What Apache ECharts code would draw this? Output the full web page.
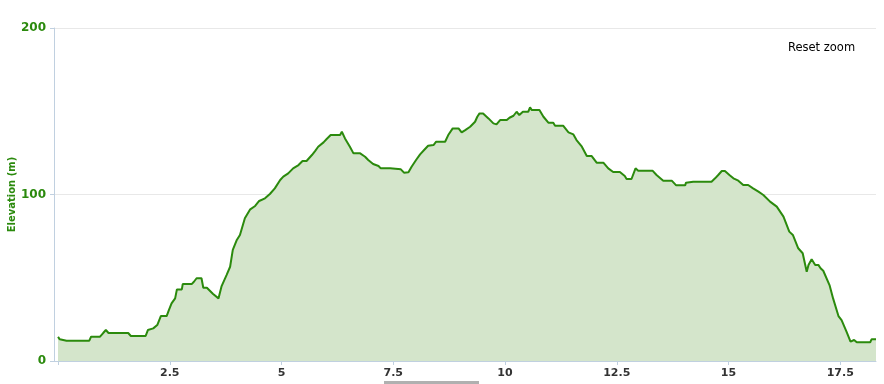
<!DOCTYPE html>
<html>
<head>
<meta charset="utf-8">
<script src="https://cdn.jsdelivr.net/npm/echarts@6/dist/echarts.min.js"></script>
<style>html,body{margin:0;padding:0;background:#fff}#c{width:884px;height:384px}</style>
</head>
<body>
<div id="c"></div>
<script>
var distances = [0.00,0.04,0.19,0.70,0.74,0.94,1.01,1.07,1.13,1.57,1.63,1.96,2.01,2.13,2.22,2.30,2.43,2.48,2.54,2.62,2.66,2.77,2.79,2.99,3.04,3.10,3.21,3.25,3.33,3.47,3.59,3.66,3.77,3.85,3.91,4.00,4.07,4.18,4.30,4.41,4.50,4.63,4.74,4.85,4.97,5.04,5.15,5.26,5.38,5.47,5.56,5.68,5.75,5.82,5.94,6.01,6.10,6.31,6.35,6.42,6.53,6.61,6.76,6.87,6.94,7.05,7.17,7.22,7.43,7.47,7.67,7.74,7.84,7.91,8.01,8.10,8.19,8.28,8.40,8.46,8.66,8.73,8.83,8.96,9.03,9.11,9.22,9.33,9.38,9.43,9.51,9.63,9.74,9.81,9.89,10.04,10.10,10.19,10.26,10.32,10.40,10.52,10.56,10.60,10.77,10.86,10.97,11.08,11.12,11.30,11.42,11.53,11.60,11.72,11.83,11.94,12.05,12.20,12.31,12.42,12.57,12.68,12.72,12.83,12.92,12.98,13.30,13.39,13.54,13.73,13.83,14.03,14.05,14.21,14.62,14.70,14.77,14.85,14.92,15.02,15.11,15.22,15.33,15.44,15.55,15.67,15.78,15.93,16.08,16.23,16.36,16.44,16.56,16.66,16.75,16.79,16.86,16.94,17.01,17.06,17.12,17.16,17.26,17.34,17.46,17.53,17.64,17.73,17.81,17.87,18.17,18.20,18.30];
var elevations = [14.5,13.0,12.2,12.2,14.6,14.6,16.8,18.6,16.8,16.8,15.0,15.0,18.6,19.6,21.6,27.0,27.0,30.6,34.6,37.6,43.0,43.0,46.2,46.2,47.6,49.7,49.7,44.0,44.0,40.2,37.6,45.0,51.6,56.6,66.7,72.7,75.7,85.7,91.1,93.1,96.1,97.7,100.3,103.7,108.7,110.7,112.7,115.7,117.7,120.1,120.1,123.7,126.1,128.7,131.3,133.3,135.7,135.7,137.7,133.7,128.7,124.7,124.7,122.7,120.7,118.3,117.1,115.7,115.7,115.1,115.1,113.1,113.3,116.7,120.7,124.1,126.7,129.3,129.7,131.7,131.7,135.7,139.7,139.7,137.3,138.7,140.7,143.7,146.7,148.7,148.7,145.7,142.7,142.1,144.7,144.7,146.1,147.3,149.7,147.7,149.7,149.7,152.3,150.7,150.7,146.7,143.1,143.1,141.3,141.3,137.3,136.1,132.7,128.7,123.1,123.1,119.1,119.1,115.7,113.5,113.5,111.1,109.3,109.3,115.7,114.3,114.3,111.7,108.3,108.3,105.5,105.5,107.1,107.7,107.7,109.7,111.7,114.1,114.1,111.7,109.7,108.3,105.7,105.7,103.7,101.7,99.7,95.7,92.7,86.7,77.7,75.7,67.7,64.7,53.6,57.7,61.1,57.7,57.7,55.7,54.2,55.1,45.6,37.6,27.0,24.6,17.6,11.6,12.6,11.2,11.2,13.0,13.0];
var xTickValues = [0, 2.5, 5, 7.5, 10, 12.5, 15, 17.5];
var xLabelValues = [2.5, 5, 7.5, 10, 12.5, 15, 17.5];
var yTitle = 'Elevation (m)';
var resetLabel = 'Reset zoom';

var data = distances.map(function (d, i) { return [d, elevations[i]]; });
var green = '#2b8a0d';
var axisCol = '#c0d0e0';
var chart = echarts.init(document.getElementById('c'), null, {renderer: 'canvas'});
chart.setOption({
  animation: false,
  grid: {left: 54, right: 8, top: 28, bottom: 23, containLabel: false, outerBoundsMode: 'none'},
  xAxis: {
    type: 'value', min: -0.09, max: 18.3,
    axisLine: {show: true, onZero: false, lineStyle: {color: axisCol, width: 1}},
    axisTick: {show: true, length: 4, lineStyle: {color: axisCol}, customValues: xTickValues},
    axisLabel: {customValues: xLabelValues, color: '#333', fontWeight: 'bold', fontSize: 11, fontFamily: 'DejaVu Sans', margin: 7,
      formatter: function (v) { return String(v); }},
    splitLine: {show: false}
  },
  yAxis: {
    type: 'value', min: 0, max: 200, interval: 100,
    name: yTitle, nameLocation: 'middle', nameGap: 37, nameRotate: 90, nameMoveOverlap: false,
    nameTextStyle: {color: green, fontWeight: 'bold', fontSize: 10, fontFamily: 'DejaVu Sans'},
    axisLine: {show: true, onZero: false, lineStyle: {color: axisCol, width: 1}},
    axisTick: {show: true, length: 4, lineStyle: {color: axisCol}},
    axisLabel: {color: green, fontWeight: 'bold', fontSize: 12, fontFamily: 'DejaVu Sans', margin: 8},
    splitLine: {show: true, lineStyle: {color: '#e8e8e8', width: 1}}
  },
  series: [{
    type: 'line', data: data, symbol: 'none', smooth: false,
    lineStyle: {color: green, width: 2},
    areaStyle: {color: '#d4e5cb', opacity: 1},
    z: 2
  }],
  graphic: [
    {type: 'text', left: 788, top: 42, style: {text: resetLabel, fill: '#000', fontSize: 11.5, fontFamily: 'DejaVu Sans'}},
    {type: 'rect', shape: {x: 384, y: 381, width: 95, height: 3}, style: {fill: '#b0b0b0'}}
  ]
});
</script>
</body>
</html>
